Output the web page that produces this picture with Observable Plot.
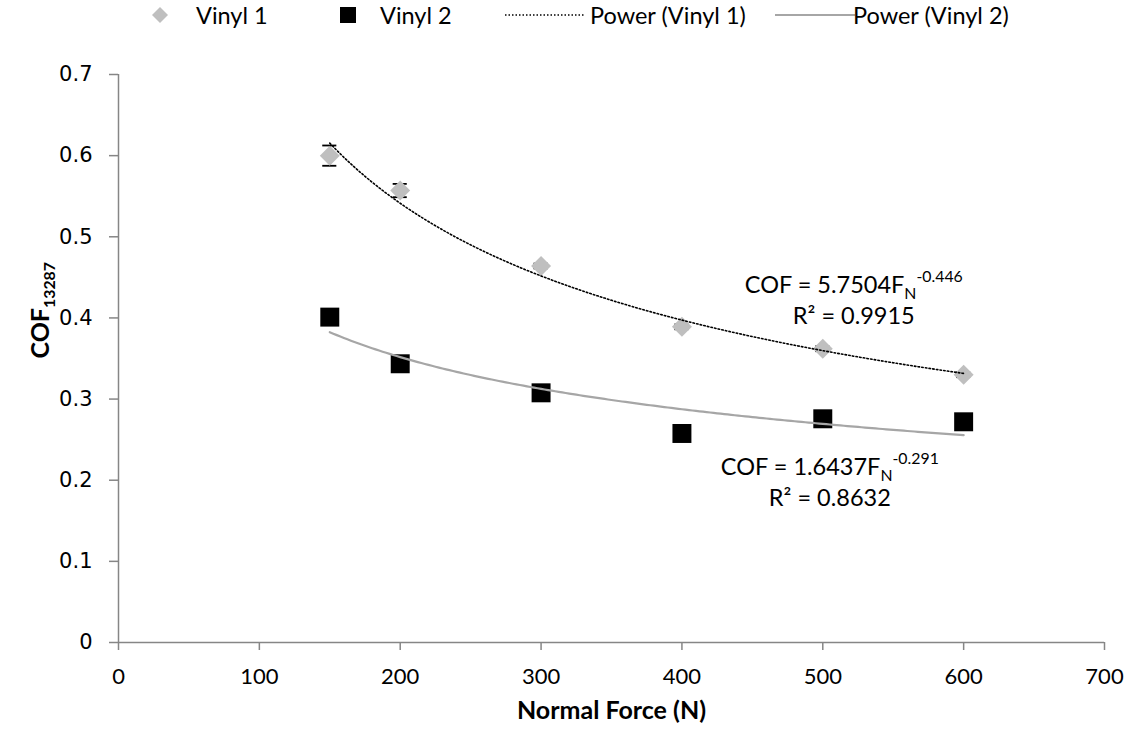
<!DOCTYPE html>
<html>
<head>
<meta charset="utf-8">
<script src="https://cdn.jsdelivr.net/npm/d3@7"></script>
<script src="https://cdn.jsdelivr.net/npm/@observablehq/plot@0.6"></script>
<style>
  body { margin: 0; background: #fff; font-family: Lato, "Open Sans", sans-serif; }
  #legend { position: relative; width: 1131px; height: 34px; }
  #legend .sw { position: absolute; top: 0; }
  #legend .lt { position: absolute; top: 1px; font-size: 23.5px; line-height: 28px; color: #000; white-space: nowrap; }
  #chart svg { display: block; }
</style>
</head>
<body>
<div id="legend"></div>
<div id="chart"></div>
<script>
// ---- data ----
const forces = [150, 200, 300, 400, 500, 600];
const vinyl1 = [0.600, 0.557, 0.464, 0.389, 0.362, 0.330];
const vinyl1Err = [0.0125, 0.0082, 0.003, 0.003, 0.003, 0.003];
const vinyl2 = [0.401, 0.3435, 0.3077, 0.2576, 0.2757, 0.272];
const vinyl2Err = [0.004, 0.004, 0.004, 0.004, 0.004, 0.004];
const seriesNames = ["Vinyl 1", "Vinyl 2", "Power (Vinyl 1)", "Power (Vinyl 2)"];
const fitCoef = [5.7504, 1.6437];
const fitExp = [-0.446, -0.291];
const fitR2 = ["0.9915", "0.8632"];
const fitRange = [150, 600];
const xTicks = [0, 100, 200, 300, 400, 500, 600, 700];
const xTickLabels = ["0", "100", "200", "300", "400", "500", "600", "700"];
const yTicks = [0, 0.1, 0.2, 0.3, 0.4, 0.5, 0.6, 0.7];
const yTickLabels = ["0", "0.1", "0.2", "0.3", "0.4", "0.5", "0.6", "0.7"];
const xTitle = "Normal Force (N)";
const yTitle = "COF_13287";
// annotation anchor points (data units)
const annX = [522, 505];
const annEqY = [0.431, 0.207];
const annR2Y = [0.392, 0.168];

// ---- derived tables ----
const pts1 = forces.map((f, i) => ({x: f, y: vinyl1[i], e: vinyl1Err[i]}));
const pts2 = forces.map((f, i) => ({x: f, y: vinyl2[i], e: vinyl2Err[i]}));
const trendX = d3.range(fitRange[0], fitRange[1] + 0.001, 2.5);
const trend1 = trendX.map(x => ({x, y: fitCoef[0] * Math.pow(x, fitExp[0])}));
const trend2 = trendX.map(x => ({x, y: fitCoef[1] * Math.pow(x, fitExp[1])}));
const annotations = [0, 1].flatMap(i => [
  {x: annX[i], y: annEqY[i], t: `COF = ${fitCoef[i]}F_N^${fitExp[i]}`},
  {x: annX[i], y: annR2Y[i], t: `R² = ${fitR2[i]}`}
]);
const allErr = pts1.concat(pts2);
const capHalf = 5;

const gray = "#868686";
const font = "Lato, 'Open Sans', sans-serif";

const chart = Plot.plot({
  width: 1131,
  height: 700,
  marginLeft: 118,
  marginRight: 27,
  marginTop: 40,
  marginBottom: 92,
  style: {fontFamily: font, background: "white", overflow: "visible"},
  x: {domain: [0, 700]},
  y: {domain: [0, 0.7]},
  marks: [
    Plot.axisX({ticks: xTicks, tickFormat: d => xTickLabels[xTicks.indexOf(d)], tickSize: 8, tickPadding: 18,
      stroke: gray, strokeWidth: 1.5, fill: "#000", fontSize: 22, fontFamily: font, label: null}),
    Plot.axisY({ticks: yTicks, tickFormat: d => yTickLabels[yTicks.indexOf(d)], tickSize: 9, tickPadding: 17,
      stroke: gray, strokeWidth: 1.5, fill: "#000", fontSize: 21, fontFamily: "'DejaVu Sans', sans-serif", label: null}),
    Plot.ruleY([0], {stroke: gray, strokeWidth: 1.5}),
    Plot.ruleX([0], {stroke: gray, strokeWidth: 1.5}),
    // error bars (under markers)
    Plot.ruleX(allErr, {x: "x", y1: d => d.y - d.e, y2: d => d.y + d.e, stroke: "#000", strokeWidth: 1.5}),
    Plot.ruleY(allErr, {y: d => d.y - d.e, x1: d => d.x - capHalf, x2: d => d.x + capHalf, stroke: "#000", strokeWidth: 1.8}),
    Plot.ruleY(allErr, {y: d => d.y + d.e, x1: d => d.x - capHalf, x2: d => d.x + capHalf, stroke: "#000", strokeWidth: 1.8}),
    Plot.dot(pts1, {x: "x", y: "y", symbol: "diamond2", r: 9, fill: "#BFBFBF", stroke: null}),
    Plot.dot(pts2, {x: "x", y: "y", symbol: "square", r: 10.7, fill: "#000", stroke: null}),
    Plot.line(trend1, {x: "x", y: "y", stroke: "#000", strokeWidth: 1.6, strokeDasharray: "1.5,2.2", curve: "linear"}),
    Plot.line(trend2, {x: "x", y: "y", stroke: "#A6A6A6", strokeWidth: 2.2, curve: "linear"}),
    Plot.text(annotations, {x: "x", y: "y", text: "t", textAnchor: "middle", lineAnchor: "bottom", fontSize: 23.5, fontFamily: font, fill: "#000"}),
    Plot.text([xTitle], {frameAnchor: "bottom", dy: 76, text: d => d, fontSize: 25, fontWeight: "bold", fontFamily: font, fill: "#000"}),
    Plot.text([yTitle], {frameAnchor: "left", dx: -78, rotate: -90, text: d => d, fontSize: 25, fontWeight: "bold", fontFamily: font, fill: "#000"})
  ]
});

// rich text: subscript / superscript
d3.select(chart).selectAll("text").each(function () {
  const t = this.textContent;
  let m = t.match(/^(.*)_([A-Za-z0-9]+)\^(.*)$/);
  const el = d3.select(this);
  const fs = parseFloat(el.attr("font-size") || getComputedStyle(this).fontSize) || 24;
  if (m) {
    el.text(m[1]);
    el.append("tspan").attr("font-size", fs * 0.66).attr("dy", fs * 0.25).text(m[2]);
    el.append("tspan").attr("font-size", fs * 0.66).attr("dy", -fs * 0.68).text(m[3]);
    return;
  }
  m = t.match(/^(.*)_([A-Za-z0-9]+)$/);
  if (m) {
    el.text(m[1]);
    el.append("tspan").attr("font-size", fs * 0.66).attr("dy", fs * 0.25).text(m[2]);
  }
});

document.getElementById("chart").appendChild(chart);

// ---- legend (HTML above the SVG) ----
const legend = d3.select("#legend");
const legendItems = [
  {swX: 150, txtX: 196, kind: "diamond"},
  {swX: 338, txtX: 380, kind: "square"},
  {swX: 505, txtX: 590, kind: "dotted"},
  {swX: 775, txtX: 853, kind: "solid"}
];
legendItems.forEach((it, i) => {
  const w = (it.kind === "dotted" || it.kind === "solid") ? 80 : 20;
  const s = legend.append("svg").attr("class", "sw").attr("width", w).attr("height", 34).style("left", it.swX + "px");
  if (it.kind === "diamond") s.append("path").attr("d", "M10,7L18,15L10,23L2,15Z").attr("fill", "#BFBFBF");
  if (it.kind === "square") s.append("rect").attr("x", 2).attr("y", 7).attr("width", 16).attr("height", 16).attr("fill", "#000");
  if (it.kind === "dotted") s.append("line").attr("x1", 0).attr("x2", w).attr("y1", 15).attr("y2", 15).attr("stroke", "#000").attr("stroke-width", 1.5).attr("stroke-dasharray", "1.5,2");
  if (it.kind === "solid") s.append("line").attr("x1", 0).attr("x2", w).attr("y1", 15).attr("y2", 15).attr("stroke", "#A6A6A6").attr("stroke-width", 2.2);
  legend.append("div").attr("class", "lt").style("left", it.txtX + "px").text(seriesNames[i]);
});
</script>
</body>
</html>
